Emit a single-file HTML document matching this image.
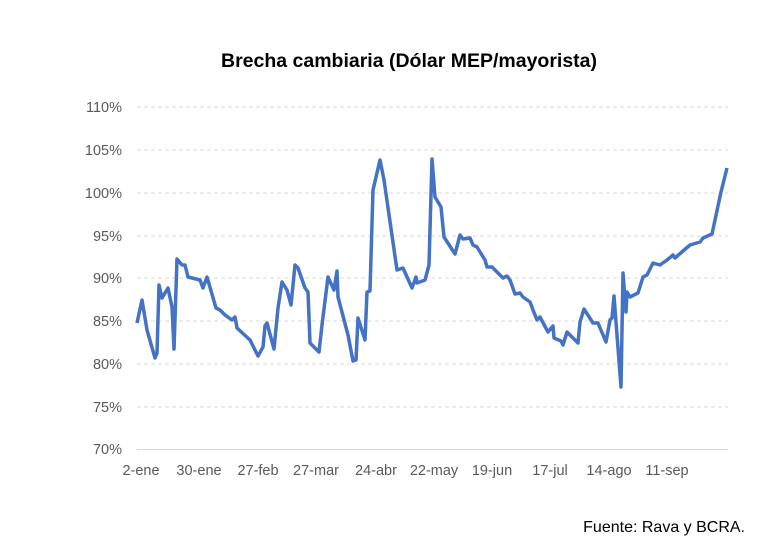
<!DOCTYPE html>
<html><head><meta charset="utf-8"><style>
body{margin:0;background:#fff;}
svg{display:block;font-family:"Liberation Sans",sans-serif;}
</style></head><body>
<svg width="765" height="543" viewBox="0 0 765 543">
<rect width="765" height="543" fill="#fff"/>
<text x="409" y="67" text-anchor="middle" font-size="19" font-weight="bold" fill="#000" textLength="376" lengthAdjust="spacingAndGlyphs">Brecha cambiaria (Dólar MEP/mayorista)</text>
<g stroke="#d9d9d9" stroke-width="1" stroke-dasharray="4,3">
<line x1="137" x2="728" y1="107" y2="107"/><line x1="137" x2="728" y1="150" y2="150"/>
<line x1="137" x2="728" y1="193" y2="193"/><line x1="137" x2="728" y1="236" y2="236"/>
<line x1="137" x2="728" y1="278" y2="278"/><line x1="137" x2="728" y1="321" y2="321"/>
<line x1="137" x2="728" y1="364" y2="364"/><line x1="137" x2="728" y1="407" y2="407"/>
</g>
<line x1="137" x2="728" y1="449.5" y2="449.5" stroke="#d9d9d9"/>
<g font-size="14.5" fill="#595959" text-anchor="end">
<text x="122" y="112">110%</text><text x="122" y="155">105%</text><text x="122" y="198">100%</text>
<text x="122" y="241">95%</text><text x="122" y="283">90%</text><text x="122" y="326">85%</text>
<text x="122" y="369">80%</text><text x="122" y="412">75%</text><text x="122" y="454">70%</text>
</g>
<g font-size="14.5" fill="#595959" text-anchor="middle">
<text x="141" y="475">2-ene</text><text x="199" y="475">30-ene</text><text x="258" y="475">27-feb</text>
<text x="316" y="475">27-mar</text><text x="376" y="475">24-abr</text><text x="434" y="475">22-may</text>
<text x="492" y="475">19-jun</text><text x="550" y="475">17-jul</text><text x="609" y="475">14-ago</text>
<text x="667" y="475">11-sep</text>
</g>
<polyline fill="none" stroke="#4472c4" stroke-width="3.5" stroke-linejoin="round" points="
137,323 142,300 147,330 155,358 157,353 159,285 162,298 168,288 172,307 174,349 177,259 182,265 185,265 188,277 200,280 203,288 207,277 216,308 220,310 225,315 232,320 235,317 237,328 250,340 258,356 263,347 265,326 267,323 274,349 278,308 282,282 287,290 291,305 295,265 298,268 305,288 308,292 310,343 319,352 322,325 328,277 334,290 337,271 338,297 348,335 353,361 356,360 358,318 365,340 367,292 370,291 373,190 380,160 384,180 397,270 403,268 412,288 416,277 417,283 425,280 429,265 432,159 435,197 441,207 444,237 455,254 460,235 463,239 470,238 473,245 477,247 485,260 487,267 492,267 503,278 507,276 510,280 515,294 520,293 523,297 530,302 533,310 537,320 540,317 548,332 553,326 554,338 561,341 563,345 567,332 578,343 580,322 584,309 593,323 598,323 606,342 610,320 612,318 614,296 621,387 623,273 626,312 627,292 630,297 638,293 643,277 647,275 653,263 660,265 667,260 673,255 675,258 683,251 690,245 700,242 703,238 712,234 721,192 727,168"/>
<text x="745" y="532" text-anchor="end" font-size="16" fill="#000">Fuente: Rava y BCRA.</text>
</svg>
</body></html>
